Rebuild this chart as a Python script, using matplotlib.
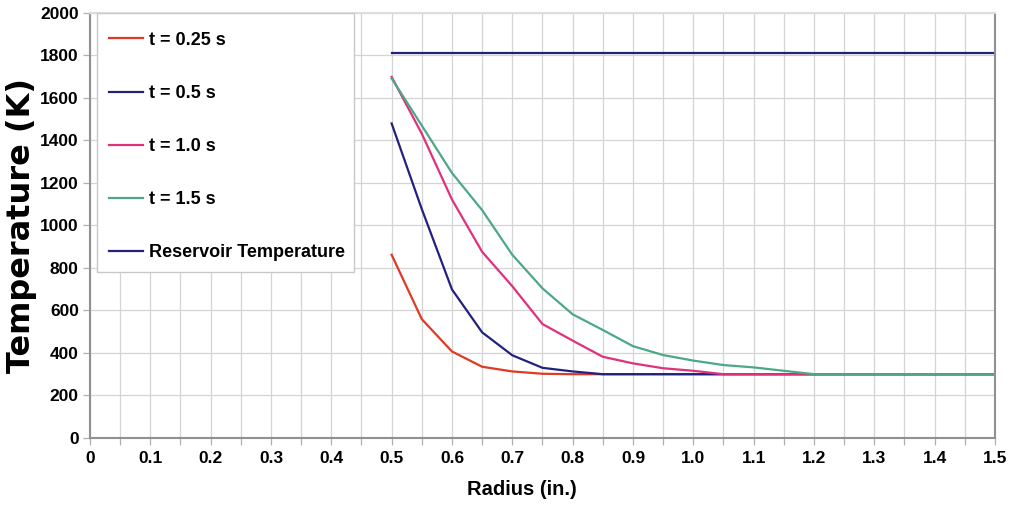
import matplotlib
matplotlib.use('Agg')
import matplotlib.pyplot as plt
from matplotlib.patches import Rectangle
import numpy as np

plt.rcParams['font.family'] = ['Liberation Sans', 'DejaVu Sans']

# radius points (in.)
radius = [0.5, 0.55, 0.6, 0.65, 0.7, 0.75, 0.8, 0.85, 0.9, 0.95, 1.0,
          1.05, 1.1, 1.15, 1.2, 1.25, 1.3, 1.35, 1.4, 1.45, 1.5]

# temperatures (K)
t025 = [860, 557, 405, 333, 311, 300, 298, 298, 298, 298, 298,
        298, 298, 298, 298, 298, 298, 298, 298, 298, 298]
t05 = [1478, 1075, 697, 495, 387, 328, 311, 298, 298, 298, 298,
       298, 298, 298, 298, 298, 298, 298, 298, 298, 298]
t10 = [1697, 1430, 1120, 874, 712, 534, 456, 380, 349, 326, 314,
       298, 298, 298, 298, 298, 298, 298, 298, 298, 298]
t15 = [1690, 1468, 1245, 1070, 860, 702, 580, 506, 430, 388, 362,
       341, 330, 314, 298, 298, 298, 298, 298, 298, 298]
reservoir = [1810] * len(radius)

labels = ['t = 0.25 s', 't = 0.5 s', 't = 1.0 s', 't = 1.5 s', 'Reservoir Temperature']
colors = ['#e03a24', '#22227e', '#e0307e', '#4ca886', '#22227e']

fig = plt.figure(figsize=(10.13, 5.11), dpi=100)
ax = fig.add_axes([0.0888, 0.1438, 0.8934, 0.8317])

for y, lab, c in zip([t025, t05, t10, t15, reservoir], labels, colors):
    ax.plot(radius, y, color=c, lw=1.6, label=lab)

ax.set_xlim(0, 1.5)
ax.set_ylim(0, 2000)
ax.set_xticks(np.arange(0, 1.51, 0.1))
ax.set_xticklabels(['0'] + ['%.1f' % v for v in np.arange(0.1, 1.51, 0.1)])
ax.set_xticks(np.arange(0, 1.51, 0.05), minor=True)
ax.set_yticks(np.arange(0, 2001, 200))
ax.grid(which='both', axis='x', color='#d4d4d4', lw=0.9)
ax.grid(which='major', axis='y', color='#d4d4d4', lw=0.9)
ax.tick_params(which='both', direction='out', length=5, color='#b0b0b0', width=0.9)
ax.tick_params(axis='x', labelsize=12.5, pad=5)
ax.tick_params(axis='y', labelsize=12.5, pad=3)
for lbl in ax.get_xticklabels() + ax.get_yticklabels():
    lbl.set_fontweight('bold')

for s in ax.spines.values():
    s.set_color('#909090')
    s.set_linewidth(1.5)
ax.spines['top'].set_color('#dddddd')

ax.set_xlabel('Radius (in.)', fontsize=14.5, fontweight='bold')
ax.xaxis.set_label_coords(0.477, -0.1)
ax.set_ylabel('Temperature (K)', fontsize=23, fontweight='bold', labelpad=2,
              family='DejaVu Sans')

# legend box (frame drawn separately so top padding can be larger)
ax.add_patch(Rectangle((0.0077, 0.389), 0.284, 0.611, transform=ax.transAxes,
                       facecolor='white', edgecolor='#c8c8c8', lw=1.0, zorder=4))
leg = ax.legend(loc='upper left', bbox_to_anchor=(0.0088, 0.981), borderaxespad=0,
                labelspacing=2.0, handlelength=1.9, handletextpad=0.3,
                borderpad=0.62, frameon=False, prop={'weight': 'bold', 'size': 13})
leg.set_zorder(5)

fig.savefig('out.png', dpi=100)
